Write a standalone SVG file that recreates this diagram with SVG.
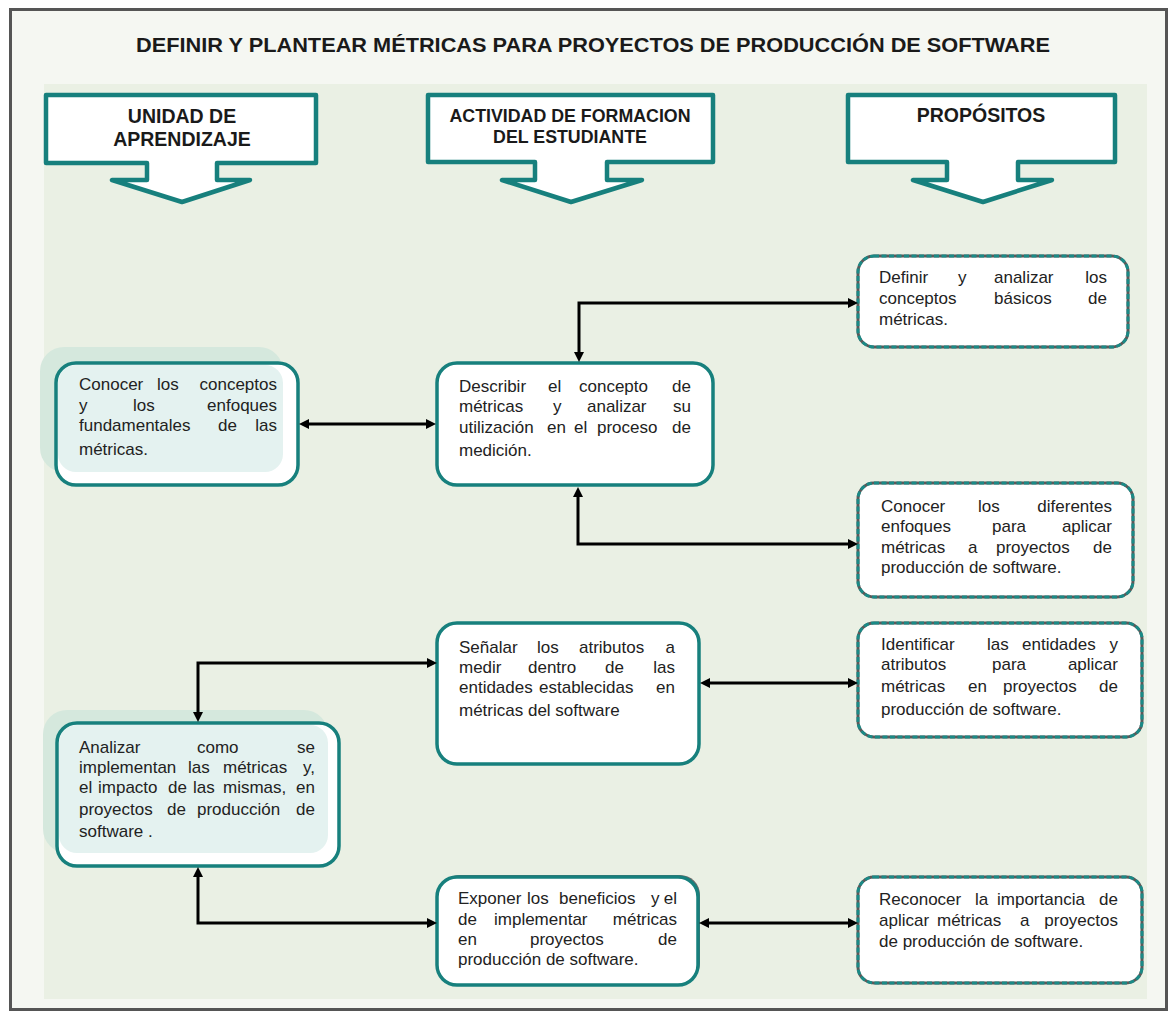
<svg xmlns="http://www.w3.org/2000/svg" width="1170" height="1011" viewBox="0 0 1170 1011">
  <style>
    .title { font-family: "Liberation Sans", Arial, sans-serif; font-weight: bold; font-size: 21px; fill: #1a1a1a; }
    .head { font-family: "Liberation Sans", Arial, sans-serif; font-weight: bold; font-size: 19.5px; fill: #1a1a1a; text-anchor: middle; }
    .head.sm { font-size: 17.8px; }
    .t { font-family: "Liberation Sans", Arial, sans-serif; font-size: 17px; fill: #222; }
    .e { text-anchor: end; }
    .banner { fill: #ffffff; stroke: #17807d; stroke-width: 4.5; stroke-linejoin: round; }
    .box { fill: #ffffff; stroke: #17807d; stroke-width: 3.5; }
    .rim { fill: none; stroke: #17807d; stroke-width: 3.5; }
    .tint { fill: #e4f2f0; }
    .halo { fill: #d5e8dd; }
    .dbase { fill: #ffffff; stroke: #5a5a5a; stroke-width: 3; }
    .dash { fill: none; stroke: #1a8a86; stroke-width: 3; stroke-dasharray: 5 2.5; }
    .link { fill: none; stroke: #000; stroke-width: 3; marker-start: url(#tip); marker-end: url(#tip); }
  </style>
  <defs>
    <marker id="tip" viewBox="0 0 10 10" refX="2" refY="5" markerWidth="10" markerHeight="10" markerUnits="userSpaceOnUse" orient="auto-start-reverse">
      <path d="M0,0 L10,5 L0,10 Z" fill="#000"/>
    </marker>
  </defs>

  <!-- page frame and panel -->
  <rect x="10.5" y="9.5" width="1156" height="1000" fill="#f5f7f2" stroke="#555" stroke-width="3"/>
  <rect x="44" y="84" width="1103" height="915" fill="#eaf0e4"/>

  <text class="title" x="593" y="52" text-anchor="middle" textLength="914" lengthAdjust="spacingAndGlyphs">DEFINIR Y PLANTEAR MÉTRICAS PARA PROYECTOS DE PRODUCCIÓN DE SOFTWARE</text>

  <!-- column banners -->
  <g id="banner-unidad">
    <path class="banner" d="M46,95 H316 V163 H217 V180 H250 L182,202 L112,180 H147 V163 H46 Z"/>
    <text class="head" x="182" y="123">UNIDAD DE</text>
    <text class="head" x="182" y="146">APRENDIZAJE</text>
  </g>
  <g id="banner-actividad">
    <path class="banner" d="M428,95 H713 V162 H607 V180 H642 L571,202 L502,180 H535 V162 H428 Z"/>
    <text class="head sm" x="570" y="122">ACTIVIDAD DE FORMACION</text>
    <text class="head sm" x="570" y="143">DEL ESTUDIANTE</text>
  </g>
  <g id="banner-propositos">
    <path class="banner" d="M848,95 H1115 V162 H1018 V180 H1052 L983,202 L913,180 H947 V162 H848 Z"/>
    <text class="head" x="981" y="122">PROPÓSITOS</text>
  </g>

  <!-- learning units -->
  <g id="unidad-1">
    <rect class="halo" x="40" y="347" width="243" height="125" rx="24"/>
    <rect x="56" y="363" width="242" height="122" rx="20" fill="#fff"/>
    <rect class="tint" x="58" y="365" width="225" height="107" rx="18"/>
    <rect class="rim" x="56" y="363" width="242" height="122" rx="20"/>
    <text class="t" y="390"><tspan x="79">Conocer</tspan><tspan x="157">los</tspan><tspan x="277" class="e">conceptos</tspan></text>
    <text class="t" y="411"><tspan x="79">y</tspan><tspan x="133">los</tspan><tspan x="277" class="e">enfoques</tspan></text>
    <text class="t" y="431"><tspan x="79">fundamentales</tspan><tspan x="218">de</tspan><tspan x="277" class="e">las</tspan></text>
    <text class="t" x="79" y="455">métricas.</text>
  </g>

  <g id="unidad-2">
    <rect class="halo" x="43" y="710" width="285" height="143" rx="24"/>
    <rect x="57" y="723" width="282" height="143" rx="20" fill="#fff"/>
    <rect class="tint" x="59" y="725" width="269" height="128" rx="18"/>
    <rect class="rim" x="57" y="723" width="282" height="143" rx="20"/>
    <text class="t" y="753"><tspan x="79">Analizar</tspan><tspan x="197">como</tspan><tspan x="315" class="e">se</tspan></text>
    <text class="t" y="773"><tspan x="79">implementan</tspan><tspan x="188">las</tspan><tspan x="223">métricas</tspan><tspan x="315" class="e">y,</tspan></text>
    <text class="t" y="793"><tspan x="79">el</tspan><tspan x="98">impacto</tspan><tspan x="168">de</tspan><tspan x="193">las</tspan><tspan x="223">mismas,</tspan><tspan x="315" class="e">en</tspan></text>
    <text class="t" y="815"><tspan x="79">proyectos</tspan><tspan x="167">de</tspan><tspan x="197">producción</tspan><tspan x="315" class="e">de</tspan></text>
    <text class="t" x="79" y="837">software .</text>
  </g>

  <!-- student activities -->
  <g id="actividad-1">
    <rect class="box" x="437" y="363" width="276" height="122" rx="20"/>
    <text class="t" y="392"><tspan x="459">Describir</tspan><tspan x="548">el</tspan><tspan x="579">concepto</tspan><tspan x="691" class="e">de</tspan></text>
    <text class="t" y="412"><tspan x="459">métricas</tspan><tspan x="553">y</tspan><tspan x="587">analizar</tspan><tspan x="691" class="e">su</tspan></text>
    <text class="t" y="433"><tspan x="459">utilización</tspan><tspan x="547">en</tspan><tspan x="574">el</tspan><tspan x="597">proceso</tspan><tspan x="691" class="e">de</tspan></text>
    <text class="t" x="459" y="456">medición.</text>
  </g>

  <g id="actividad-2">
    <rect class="box" x="437" y="623" width="262" height="141" rx="20"/>
    <text class="t" y="653"><tspan x="459">Señalar</tspan><tspan x="537">los</tspan><tspan x="579">atributos</tspan><tspan x="675" class="e">a</tspan></text>
    <text class="t" y="673"><tspan x="459">medir</tspan><tspan x="528">dentro</tspan><tspan x="605">de</tspan><tspan x="675" class="e">las</tspan></text>
    <text class="t" y="693"><tspan x="459">entidades</tspan><tspan x="539">establecidas</tspan><tspan x="675" class="e">en</tspan></text>
    <text class="t" x="459" y="716">métricas del software</text>
  </g>

  <g id="actividad-3">
    <rect x="439" y="875" width="261" height="108" rx="20" fill="#6a6a6a"/>
    <rect class="box" x="437" y="877" width="261" height="108" rx="20"/>
    <text class="t" y="904"><tspan x="458">Exponer</tspan><tspan x="527">los</tspan><tspan x="559">beneficios</tspan><tspan x="651">y</tspan><tspan x="677" class="e">el</tspan></text>
    <text class="t" y="925"><tspan x="458">de</tspan><tspan x="494">implementar</tspan><tspan x="677" class="e">métricas</tspan></text>
    <text class="t" y="945"><tspan x="458">en</tspan><tspan x="530">proyectos</tspan><tspan x="677" class="e">de</tspan></text>
    <text class="t" x="458" y="965">producción de software.</text>
  </g>

  <!-- purposes -->
  <g id="proposito-1">
    <rect class="dbase" x="858" y="256" width="270" height="91" rx="16"/>
    <rect class="dash" x="858" y="256" width="270" height="91" rx="16"/>
    <text class="t" y="283"><tspan x="879">Definir</tspan><tspan x="958">y</tspan><tspan x="994">analizar</tspan><tspan x="1107" class="e">los</tspan></text>
    <text class="t" y="304"><tspan x="879">conceptos</tspan><tspan x="994">básicos</tspan><tspan x="1107" class="e">de</tspan></text>
    <text class="t" x="879" y="325">métricas.</text>
  </g>

  <g id="proposito-2">
    <rect class="dbase" x="858" y="483" width="275" height="114" rx="16"/>
    <rect class="dash" x="858" y="483" width="275" height="114" rx="16"/>
    <text class="t" y="512"><tspan x="881">Conocer</tspan><tspan x="978">los</tspan><tspan x="1112" class="e">diferentes</tspan></text>
    <text class="t" y="532"><tspan x="881">enfoques</tspan><tspan x="992">para</tspan><tspan x="1112" class="e">aplicar</tspan></text>
    <text class="t" y="553"><tspan x="881">métricas</tspan><tspan x="968">a</tspan><tspan x="996">proyectos</tspan><tspan x="1112" class="e">de</tspan></text>
    <text class="t" x="881" y="573">producción de software.</text>
  </g>

  <g id="proposito-3">
    <rect class="dbase" x="858" y="623" width="284" height="114" rx="16"/>
    <rect class="dash" x="858" y="623" width="284" height="114" rx="16"/>
    <text class="t" y="650"><tspan x="881">Identificar</tspan><tspan x="987">las</tspan><tspan x="1022">entidades</tspan><tspan x="1118" class="e">y</tspan></text>
    <text class="t" y="670"><tspan x="881">atributos</tspan><tspan x="992">para</tspan><tspan x="1118" class="e">aplicar</tspan></text>
    <text class="t" y="692"><tspan x="881">métricas</tspan><tspan x="968">en</tspan><tspan x="1003">proyectos</tspan><tspan x="1118" class="e">de</tspan></text>
    <text class="t" x="881" y="715">producción de  software.</text>
  </g>

  <g id="proposito-4">
    <rect class="dbase" x="858" y="877" width="284" height="106" rx="16"/>
    <rect class="dash" x="858" y="877" width="284" height="106" rx="16"/>
    <text class="t" y="905"><tspan x="879">Reconocer</tspan><tspan x="975">la</tspan><tspan x="997">importancia</tspan><tspan x="1118" class="e">de</tspan></text>
    <text class="t" y="926"><tspan x="879">aplicar</tspan><tspan x="937">métricas</tspan><tspan x="1020">a</tspan><tspan x="1118" class="e">proyectos</tspan></text>
    <text class="t" x="879" y="947">de producción de software.</text>
  </g>

  <!-- connectors, drawn last so every arrowhead sits on top -->
  <g id="connectors">
    <path class="link" d="M307,424 H428"/>
    <path class="link" d="M579,354 V303 H850"/>
    <path class="link" d="M578,495 V544 H850"/>
    <path class="link" d="M198,714 V663 H429"/>
    <path class="link" d="M198,875 V923 H429"/>
    <path class="link" d="M708,683 H850"/>
    <path class="link" d="M707,923 H850"/>
  </g>
</svg>
